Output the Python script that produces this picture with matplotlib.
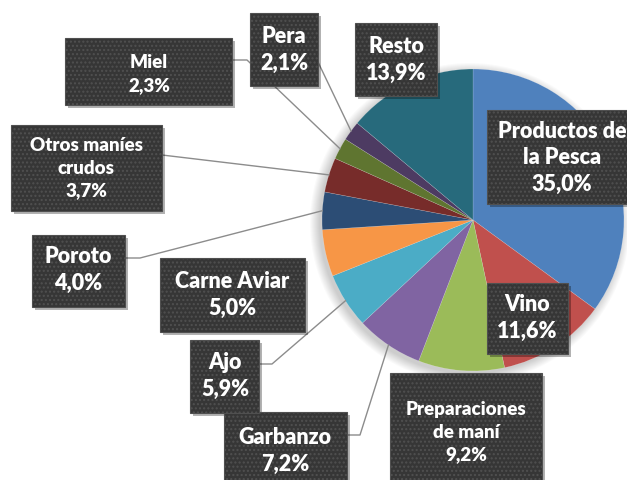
import numpy as np
import matplotlib.pyplot as plt
from matplotlib.patches import Rectangle, Circle

W, H = 627, 480

# datos del grafico
categorias = ['Productos de\nla Pesca', 'Vino', 'Preparaciones\nde maní', 'Garbanzo', 'Ajo',
              'Carne Aviar', 'Poroto', 'Otros maníes\ncrudos', 'Miel', 'Pera', 'Resto']
valores = [35.0, 11.6, 9.2, 7.2, 5.9, 5.0, 4.0, 3.7, 2.3, 2.1, 13.9]
colores = ['#4F81BD', '#C0504D', '#9BBB59', '#8064A2', '#4BACC6', '#F79646',
           '#2C4D75', '#772C2A', '#5F7530', '#4D3B62', '#276A7C']

# layout of label boxes in pixels (x0, y0, x1, y1), y measured from top
cajas = [(487, 110, 640, 204), (487, 283, 568, 354), (390, 373, 542, 495),
         (224, 412, 347, 495), (190, 340, 259, 413), (160, 258, 305, 332),
         (32, 235, 125, 307), (11, 125, 162, 211), (65, 38, 232, 105),
         (250, 13, 318, 86), (355, 23, 437, 96)]
centros_texto = [(562, 158), (527, 318), (466, 432), (285, 451), (225, 376), (232, 295),
                 (78, 270), (86, 168), (149, 74), (284, 50), (396, 60)]
pequenas = {'Preparaciones\nde maní', 'Otros maníes\ncrudos', 'Miel'}
# leader line points starting at the box (pie end is computed)
guias = {3: [(347, 435), (360, 435)], 4: [(259, 364), (272, 364)], 6: [(125, 258), (140, 258)],
         7: [(162, 155)], 8: [(232, 60), (247, 60)], 9: [(318, 62)]}

cx, cy, r = 473, 220, 151

plt.rcParams['font.family'] = ['Lato', 'DejaVu Sans']
fig = plt.figure(figsize=(6.27, 4.8), dpi=100)
ax = fig.add_axes([0, 0, 1, 1])

# soft shadow behind pie
for k in range(10):
    ax.add_patch(Circle((cx - 3, H - cy - 3), r + k, color='black', alpha=0.018, lw=0, zorder=0))

wedges, _ = ax.pie(valores, colors=colores, startangle=90, counterclock=False,
                   center=(cx, H - cy), radius=r,
                   wedgeprops=dict(edgecolor=(1, 1, 1, 0.35), linewidth=0.3))

for i, pts in guias.items():
    w = wedges[i]
    ang = np.deg2rad((w.theta1 + w.theta2) / 2)
    xe = cx + r * np.cos(ang)
    ye = (H - cy) + r * np.sin(ang)
    xs = [p[0] for p in pts] + [xe]
    ys = [H - p[1] for p in pts] + [ye]
    ax.plot(xs, ys, color='#8c8c8c', lw=1, zorder=2)

for i, (x0, y0, x1, y1) in enumerate(cajas):
    ax.add_patch(Rectangle((x0 + 3, H - y1 - 3), x1 - x0, y1 - y0, color='black',
                           alpha=0.3, lw=0, zorder=3))
    ax.add_patch(Rectangle((x0, H - y1), x1 - x0, y1 - y0, facecolor='#363636',
                           edgecolor='#505050', hatch='....', lw=0.8, zorder=4))
    txt = categorias[i] + '\n' + f'{valores[i]:.1f}%'.replace('.', ',')
    small = categorias[i] in pequenas
    tx, ty = centros_texto[i]
    ax.text(tx, H - ty, txt, color='white', fontweight='heavy',
            fontsize=13.5 if small else 15.5, linespacing=1.4 if small else 1.3,
            ha='center', va='center', zorder=5)

ax.set_xlim(0, W)
ax.set_ylim(0, H)
ax.axis('off')
fig.savefig('out.png', dpi=100)
